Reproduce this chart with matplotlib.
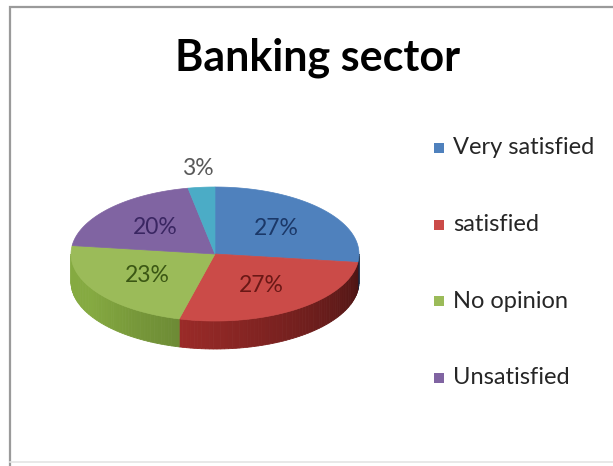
import numpy as np
import matplotlib
matplotlib.use("Agg")
import matplotlib.pyplot as plt
from matplotlib.patches import Polygon, Rectangle
from matplotlib.colors import to_rgb

# survey shares (percent)
legend_names = ["Very satisfied", "satisfied", "No opinion", "Unsatisfied"]
shares = [27, 27, 23, 20, 3]
slice_colors = ["#4F81BD", "#CB4B48", "#9BBB59", "#8064A2", "#4BACC6"]
label_colors = ["#1B3868", "#6A1816", "#3B5714", "#3A2662", "#595959"]

plt.rcParams["font.family"] = ["Lato", "DejaVu Sans"]

fig = plt.figure(figsize=(6.13, 4.66), dpi=100)
ax = fig.add_axes([0, 0, 1, 1])
ax.set_xlim(0, 613)
ax.set_ylim(466, 0)
ax.axis("off")

# chart frame (runs off the right edge)
ax.plot([9.5, 9.5, 620], [466, 6.5, 6.5], color="#9A9A9A", lw=1.6,
        solid_joinstyle="miter")
ax.plot([9.5, 620], [462, 462], color="#E4E4E4", lw=1.2)

ax.text(318, 58, "Banking sector", ha="center", va="center",
        fontsize=31, fontweight="bold", color="black")

# pseudo 3d pie geometry
cx, cy = 215, 254
rx, ry = 144, 67
depth = 28


def ell(t_deg, dy=0.0):
    t = np.radians(t_deg)
    return np.column_stack([cx + rx * np.cos(t), cy - ry * np.sin(t) + dy])


fracs = np.array(shares, dtype=float) / sum(shares)
starts = 90 - 360 * np.concatenate([[0], np.cumsum(fracs)[:-1]])
ends = starts - 360 * fracs

# side walls (front half only), drawn in thin strips for shading
for s, e, col in zip(starts, ends, slice_colors):
    base = np.array(to_rgb(col)) ** 1.3
    lo, hi = e, s
    for k in (0, -360):
        a0 = max(lo, -180 + k)
        a1 = min(hi, 0 + k)
        if a1 <= a0:
            continue
        edges = np.linspace(a0, a1, max(2, int((a1 - a0) / 1.5) + 1))
        for t0, t1 in zip(edges[:-1], edges[1:]):
            u = -((t0 + t1) / 2 - k) / 180
            f = min(1.0, 0.38 + 0.75 * u)
            shade = np.clip(base * f, 0, 1)
            top = ell(np.array([t0, t1]))
            bot = ell(np.array([t1, t0]), depth)
            ax.add_patch(Polygon(np.vstack([top, bot]), closed=True,
                                 fc=shade, ec=shade, lw=0.6))

# top face wedges
for s, e, col in zip(starts, ends, slice_colors):
    arc = ell(np.linspace(s, e, 80))
    pts = np.vstack([[cx, cy], arc])
    ax.add_patch(Polygon(pts, closed=True, fc=col, ec=col, lw=0.5))

# percentage labels
for i, (s, e) in enumerate(zip(starts, ends)):
    mid = np.radians((s + e) / 2)
    r = 1.28 if shares[i] < 5 else 0.57
    x = cx + rx * r * np.cos(mid)
    y = cy - ry * r * np.sin(mid)
    ax.text(x, y, f"{shares[i]}%", ha="center", va="center",
            fontsize=16.5, color=label_colors[i])

# legend
for i, name in enumerate(legend_names):
    y = 148 + i * 76.5
    ax.add_patch(Rectangle((434, y - 5), 10, 10, fc=slice_colors[i], ec="none"))
    ax.text(453, y, name, ha="left", va="center", fontsize=17, color="#262626")

fig.savefig("out.png", dpi=100)
